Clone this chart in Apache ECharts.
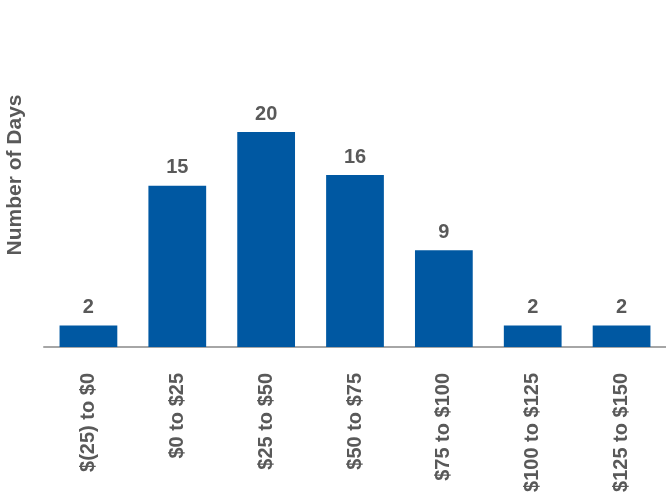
<!DOCTYPE html>
<html>
<head>
<meta charset="utf-8">
<script src="https://cdn.jsdelivr.net/npm/echarts@6/dist/echarts.min.js"></script>
<style>html,body{margin:0;padding:0;background:#fff}#c{width:666px;height:500px}</style>
</head>
<body>
<div id="c"></div>
<script>
const categories = ['$(25) to $0', '$0 to $25', '$25 to $50', '$50 to $75', '$75 to $100', '$100 to $125', '$125 to $150'];
const days = [2, 15, 20, 16, 9, 2, 2];
const yAxisName = 'Number of Days';

const chart = echarts.init(document.getElementById('c'), null, {renderer: 'canvas'});
const font = 'Liberation Sans, Arial, sans-serif';
chart.setOption({
  animation: false,
  grid: {left: 44, right: 0, top: 3, bottom: 153, containLabel: false, outerBoundsMode: 'none'},
  xAxis: {
    type: 'category',
    data: categories,
    axisLine: {lineStyle: {color: '#a6a6a6', width: 2}},
    axisTick: {show: false},
    axisLabel: {rotate: 90, margin: 26, color: '#595959', fontSize: 20, fontWeight: 'bold', fontFamily: font, interval: 0}
  },
  yAxis: {
    type: 'value',
    min: 0, max: 32,
    name: yAxisName,
    nameLocation: 'middle',
    nameGap: 18,
    nameRotate: 90,
    nameTextStyle: {color: '#595959', fontSize: 21, fontWeight: 'bold', fontFamily: font},
    axisLine: {show: false},
    axisTick: {show: false},
    axisLabel: {show: false},
    splitLine: {show: false}
  },
  series: [{
    type: 'bar',
    data: days,
    barWidth: '65%',
    itemStyle: {color: '#0058A2'},
    label: {show: true, position: 'top', distance: 8, color: '#595959', fontSize: 20, fontWeight: 'bold', fontFamily: font}
  }]
});
</script>
</body>
</html>
